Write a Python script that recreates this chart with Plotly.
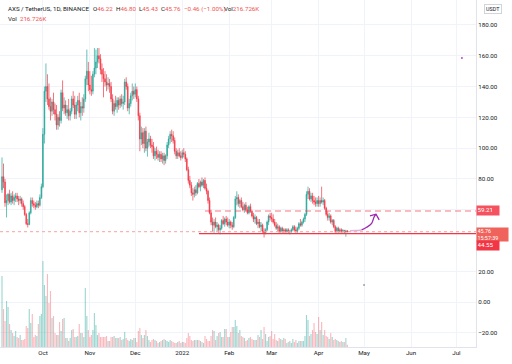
import pandas as pd
import plotly.graph_objects as go

# ---------------- data ----------------
dates = pd.date_range("2021-09-04", periods=229, freq="D")

opens_sep = [73, 81.5, 78, 64.5, 66, 70, 65, 69, 66, 68, 69, 67, 66, 67, 64, 62, 57, 51, 50.5, 58, 66, 64, 63, 62, 64, 63, 68]
highs_sep = [94, 90, 80, 70, 71, 73, 71, 72, 70, 71, 71, 69, 69, 68, 66, 63, 58, 54, 59, 68, 68, 66, 65, 66, 66, 70, 77]
lows_sep = [71, 74, 62, 55, 63, 64, 63, 64, 63, 65, 65, 63, 64, 62, 60, 56, 50, 48.5, 50, 57, 62, 61, 60, 61, 61, 62, 67]
closes_sep = [81.5, 78, 64.5, 66, 70, 65, 69, 66, 68, 69, 67, 66, 67, 64, 62, 57, 51, 50.5, 58, 66, 64, 63, 62, 64, 63, 68, 75]

opens_oct = [75, 109, 137, 140, 132, 127, 124, 130, 125, 122, 115, 120, 118, 136, 126, 128, 123, 125, 121, 124, 132, 128, 122, 128, 131, 123, 127, 126, 132, 145, 150]
highs_oct = [113, 140, 155, 148, 142, 133, 132, 136, 129, 128, 122, 124, 138, 144, 133, 131, 128, 132, 126, 134, 137, 134, 130, 134, 136, 130, 133, 135, 147, 164, 156]
lows_oct = [74, 103, 130, 128, 125, 118, 121, 122, 118, 112, 112, 114, 116, 124, 122, 121, 119, 118, 118, 122, 126, 119, 119, 124, 120, 118, 121, 123, 130, 141, 137]
closes_oct = [109, 137, 140, 132, 127, 124, 130, 125, 122, 115, 120, 118, 136, 126, 128, 123, 125, 121, 124, 132, 128, 122, 128, 131, 123, 127, 126, 132, 145, 150, 141]

opens_nov = [141, 138, 137, 148, 152, 156, 160, 158, 151, 148, 145, 143, 141, 142, 140, 132, 124, 129, 127, 131, 128, 132, 129, 130, 143, 140, 126, 129, 134, 137]
highs_nov = [150, 147, 150, 165, 164, 165, 165, 161, 155, 152, 150, 148, 146, 145, 143, 135, 131, 134, 133, 133, 134, 135, 134, 145, 146, 142, 132, 136, 142, 140]
lows_nov = [135, 134, 135, 146, 148, 152, 155, 148, 143, 133, 140, 137, 138, 136, 130, 122, 121, 125, 123, 125, 126, 127, 125, 128, 138, 124, 122, 127, 131, 132]
closes_nov = [138, 137, 148, 152, 156, 160, 158, 151, 148, 145, 143, 141, 142, 140, 132, 124, 129, 127, 131, 128, 132, 129, 130, 143, 140, 126, 129, 134, 137, 135]

opens_dec = [135, 138, 132, 121, 106, 110, 103, 111, 100, 104, 106, 102, 101, 95, 98, 96, 94, 96, 93, 95, 92, 95, 102, 106, 109, 108, 105, 98, 95, 97, 95]
highs_dec = [142, 140, 134, 123, 114, 113, 113, 114, 106, 110, 108, 106, 104, 100, 101, 99, 98, 98, 97, 97, 96, 104, 108, 111, 112, 111, 107, 100, 99, 100, 98]
lows_dec = [133, 130, 118, 98, 102, 100, 97, 98, 94.5, 101, 100, 97, 93, 92, 93, 92, 91, 91, 90, 89, 90, 93, 100, 103, 104, 103, 96, 93, 93, 94, 92]
closes_dec = [138, 132, 121, 106, 110, 103, 111, 100, 104, 106, 102, 101, 95, 98, 96, 94, 96, 93, 95, 92, 95, 102, 106, 109, 108, 105, 98, 95, 97, 95, 94]

opens_jan = [94, 97, 96, 93, 86, 79, 76, 71, 70, 73, 71, 77, 75, 78, 76, 79, 74, 72, 66, 58, 52, 50, 52, 49, 50, 47, 48, 53, 51, 54, 52]
highs_jan = [99, 100, 98, 94, 88, 82, 78, 74, 75, 76, 78, 80, 79, 81, 80, 81, 77, 73, 68, 60, 55, 54, 55, 52, 51, 50, 54, 56, 55, 56, 55]
lows_jan = [93, 94, 91, 85, 77, 74, 69, 66, 68, 69, 70, 74, 72, 75, 74, 73, 70, 64, 57, 50, 46, 45, 48, 46, 45, 44, 47, 50, 49, 50, 49]
closes_jan = [97, 96, 93, 86, 79, 76, 71, 70, 73, 71, 77, 75, 78, 76, 79, 74, 72, 66, 58, 52, 50, 52, 49, 50, 47, 48, 53, 51, 54, 52, 50]

opens_feb = [50, 52, 50, 49, 55, 67, 68, 64, 66, 62, 60, 63, 60, 58, 62, 59, 56, 54, 55, 51, 52, 49, 50, 46, 45, 47, 52, 56]
highs_feb = [54, 53, 52, 56, 69, 72, 70, 67, 68, 65, 64, 65, 62, 63, 64, 60, 58, 57, 56, 54, 54, 52, 51, 48, 48, 53, 57, 58]
lows_feb = [48, 48, 47, 48, 54, 63, 62, 61, 61, 59, 58, 59, 57, 57, 58, 55, 52, 51, 50, 48, 48, 46, 45, 42, 44, 46, 50, 53]
closes_feb = [52, 50, 49, 55, 67, 68, 64, 66, 62, 60, 63, 60, 58, 62, 59, 56, 54, 55, 51, 52, 49, 50, 46, 45, 47, 52, 56, 55]

opens_mar = [55, 54, 52, 50, 48, 49, 46, 48, 46, 47, 46, 47, 45.5, 46, 47, 49, 47, 46, 48, 51, 50, 52, 54, 57, 70, 72, 67, 69, 66, 65, 64]
highs_mar = [58, 57, 54, 52, 51, 50, 49, 49, 48, 48, 48, 48, 47, 48, 50, 50, 49, 49, 52, 54, 53, 55, 58, 72, 75, 74, 71, 71, 69, 68, 68]
lows_mar = [52, 51, 49, 47, 46, 45, 45, 45, 44.5, 45, 45, 45, 44, 45, 46, 46, 45, 45, 47, 49, 49, 51, 52, 56, 67, 66, 65, 64, 63, 62, 62]
closes_mar = [54, 52, 50, 48, 49, 46, 48, 46, 47, 46, 47, 45.5, 46, 47, 49, 47, 46, 48, 51, 50, 52, 54, 57, 70, 72, 67, 69, 66, 65, 64, 66]

opens_apr = [66, 64, 66, 65, 66, 61, 57, 55, 56, 52, 53, 49, 46, 48, 46, 47, 46, 46.5, 45.6, 46.22]
highs_apr = [69, 68, 75, 68, 67, 62, 59, 58, 57, 54, 54, 50, 49, 49, 48, 48, 47.5, 47, 47, 46.80]
lows_apr = [62, 62, 64, 63, 60, 56, 53, 53, 51, 50, 48, 45, 45, 45, 45, 45, 45, 44.8, 42.5, 45.43]
closes_apr = [64, 66, 65, 66, 61, 57, 55, 56, 52, 53, 49, 46, 48, 46, 47, 46, 46.5, 45.6, 46.22, 45.76]

# volumes in thousands
vol_sep = [7100, 3800, 2600, 4600, 4000, 2300, 1700, 1400, 1100, 1600, 1000, 900, 1200, 700, 700, 800, 2100, 1900, 3800, 2400, 3300, 1000, 1200, 1100, 2300, 3100, 3300]
vol_oct = [8600, 6200, 5100, 7300, 4400, 5600, 2900, 3100, 1400, 1200, 1200, 2500, 1600, 2800, 2900, 900, 900, 600, 900, 1700, 1800, 1000, 1000, 1100, 2300, 1400, 1400, 1000, 5900, 3100, 1700]
vol_nov = [1000, 1200, 1700, 3400, 2200, 1200, 1400, 1000, 1000, 1000, 1000, 1100, 600, 600, 1000, 1000, 1100, 900, 900, 900, 1000, 700, 800, 1500, 900, 700, 600, 800, 700, 900]
vol_dec = [900, 500, 1600, 1900, 1200, 900, 1200, 1700, 1100, 700, 500, 700, 800, 700, 600, 400, 500, 600, 700, 800, 700, 600, 500, 700, 600, 500, 400, 400, 500, 600, 400]
vol_jan = [500, 500, 400, 900, 1400, 1100, 700, 600, 700, 700, 700, 700, 600, 500, 400, 1100, 800, 600, 600, 1100, 1700, 1600, 700, 1100, 1400, 1500, 1000, 1000, 1800, 1800, 1000]
vol_feb = [1000, 1500, 2000, 2000, 2700, 2100, 1400, 1700, 1100, 1000, 900, 600, 700, 900, 1000, 800, 700, 700, 700, 1200, 1000, 1700, 800, 2000, 1300, 600, 1000, 1100]
vol_mar = [1600, 800, 1300, 700, 600, 900, 800, 700, 900, 800, 400, 500, 600, 400, 800, 500, 700, 400, 600, 600, 600, 600, 1100, 3200, 2700, 1100, 1300, 1700, 2400, 1500, 1300]
vol_apr = [3000, 1700, 2500, 1200, 1700, 1100, 1000, 800, 1400, 1000, 700, 800, 700, 600, 500, 600, 500, 500, 900, 216.726]

opens = opens_sep + opens_oct + opens_nov + opens_dec + opens_jan + opens_feb + opens_mar + opens_apr
highs = highs_sep + highs_oct + highs_nov + highs_dec + highs_jan + highs_feb + highs_mar + highs_apr
lows = lows_sep + lows_oct + lows_nov + lows_dec + lows_jan + lows_feb + lows_mar + lows_apr
closes = closes_sep + closes_oct + closes_nov + closes_dec + closes_jan + closes_feb + closes_mar + closes_apr
volumes_k = vol_sep + vol_oct + vol_nov + vol_dec + vol_jan + vol_feb + vol_mar + vol_apr

month_ticks = ["2021-10-01", "2021-11-01", "2021-12-01", "2022-01-01", "2022-02-01",
               "2022-03-01", "2022-04-01", "2022-05-01", "2022-06-01", "2022-07-01"]
month_labels = ["Oct", "Nov", "Dec", "2022", "Feb", "Mar", "Apr", "May", "Jun", "Jul"]
price_ticks = [-20, 0, 20, 60, 80, 100, 120, 140, 160, 180]

resistance = 59.21
support = 44.55
last_close = 45.76
resistance_start = "2022-01-16"
support_start = "2022-01-12"

# hand-drawn arrow (days after 2021-09-04, price)
arrow_faded_days = [229.7, 233.5, 237.4]
arrow_faded_prices = [46.4, 46.5, 46.9]
arrow_days = [237.4, 240.7, 244.0, 245.7, 246.9]
arrow_prices = [46.9, 48.6, 51.2, 55.5, 57.1]
head_days = [242.9, 246.9, 249.0]
head_prices = [56.0, 57.1, 53.4]

# ---------------- styling ----------------
UP = "#26a69a"
DOWN = "#f23645"
UP_VOL = "rgba(38,166,154,0.45)"
DOWN_VOL = "rgba(242,54,69,0.35)"
GRID = "#f0f3fa"
AXIS = "#e0e3eb"
TXT = "#131722"
RED_TXT = "#ef5350"
PURPLE = "#9c27b0"
FONT = "Roboto"
FS = 6.2

base = pd.Timestamp("2021-09-04")
to_date = lambda d: base + pd.Timedelta(days=d)
x_start = to_date(-1.32)
x_end = to_date(312.9)

vol_colors = [UP_VOL if c >= o else DOWN_VOL for o, c in zip(opens, closes)]

fig = go.Figure()
fig.add_trace(go.Bar(x=dates, y=volumes_k, marker=dict(color=vol_colors, line=dict(width=0)),
                     yaxis="y", hoverinfo="skip"))
fig.add_trace(go.Candlestick(
    x=dates, open=opens, high=highs, low=lows, close=closes, yaxis="y2",
    increasing=dict(line=dict(color=UP, width=0.7), fillcolor=UP),
    decreasing=dict(line=dict(color=DOWN, width=0.7), fillcolor=DOWN),
    whiskerwidth=0, hoverinfo="skip"))

fig.add_trace(go.Scatter(x=[to_date(d) for d in arrow_faded_days], y=arrow_faded_prices, yaxis="y2",
                         mode="lines", line=dict(color="#dbb5e6", width=1.4, shape="spline"), hoverinfo="skip"))
fig.add_trace(go.Scatter(x=[to_date(d) for d in arrow_days], y=arrow_prices, yaxis="y2",
                         mode="lines", line=dict(color=PURPLE, width=1.3, shape="spline"), hoverinfo="skip"))
fig.add_trace(go.Scatter(x=[to_date(d) for d in head_days], y=head_prices, yaxis="y2",
                         mode="lines", line=dict(color=PURPLE, width=1.3), hoverinfo="skip"))
fig.add_trace(go.Scatter(x=[to_date(303.6), to_date(239.0)], y=[158.6, 11.2], yaxis="y2", mode="markers",
                         marker=dict(size=2, color=["#b04fc4", "#9aa0ab"]), hoverinfo="skip"))

shapes = [
    dict(type="line", xref="x", yref="y2", x0=x_start, x1=x_end, y0=last_close, y1=last_close,
         line=dict(color="#f5a3a3", width=1, dash="dot")),
    dict(type="line", xref="x", yref="y2", x0=resistance_start, x1=x_end, y0=resistance, y1=resistance,
         line=dict(color="rgba(242,54,69,0.45)", width=1.6, dash="6px,4px")),
    dict(type="line", xref="x", yref="y2", x0=support_start, x1=x_end, y0=support, y1=support,
         line=dict(color=DOWN, width=1.3)),
]

W_PLOT = 476.0
H_PLOT = 347.0
def px(x):
    return x / W_PLOT
def py(y):
    return 1 - y / H_PLOT

annotations = []
def head(x, y, text):
    annotations.append(dict(xref="paper", yref="paper", x=px(x), y=py(y), xanchor="left", yanchor="middle",
                            text=text, showarrow=False, font=dict(size=FS, color=TXT, family=FONT)))
red = lambda s: f"<span style='color:{RED_TXT}'>{s}</span>"
head(6, 9.3, "AXS / TetherUS, 1D, BINANCE")
head(90.5, 9.3, "O" + red(f"{opens[-1]:.2f}"))
head(113.8, 9.3, "H" + red(f"{highs[-1]:.2f}"))
head(136.5, 9.3, "L" + red(f"{lows[-1]:.2f}"))
head(158.8, 9.3, "C" + red(f"{closes[-1]:.2f}"))
chg = closes[-1] - opens[-1]
head(181.5, 9.3, red(f"−{abs(chg):.2f} (−{abs(chg) / opens[-1] * 100:.2f}%)"))
head(222, 9.3, "Vol" + red(f"{volumes_k[-1]:.3f}K"))
head(6, 19.2, "Vol  " + red(f"{volumes_k[-1]:.3f}K"))

annotations.append(dict(xref="paper", yref="paper", x=px(493), y=py(9), xanchor="center", yanchor="middle",
                        text="USDT", showarrow=False, font=dict(size=5.4, color=TXT, family=FONT),
                        bordercolor="#d1d4dc", borderwidth=1, borderpad=1, bgcolor="white"))

def price_label(y, text, bg, shift=0, width=None, height=None, size=FS):
    d = dict(xref="paper", yref="y2", x=1.0, y=y, xanchor="left", yanchor="middle", yshift=shift,
             text=text, showarrow=False, bgcolor=bg, borderpad=0.5,
             font=dict(size=size, color="white", family=FONT), align="left")
    if width:
        d["width"] = width
    if height:
        d["height"] = height
    annotations.append(d)

price_label(resistance, f"{resistance:.2f}", "#f5525f", 0, 21, 7.5)
price_label(last_close, f"{last_close:.2f}<br>15:57:39", "#f0625c", -2.5, 30, 11.5, 5.4)
price_label(support, f"{support:.2f}", "#f23645", -12, 21, 7.5)

fig.update_layout(
    width=512, height=364,
    margin=dict(l=0, r=36, t=0, b=17),
    paper_bgcolor="white", plot_bgcolor="white",
    showlegend=False, hovermode=False, bargap=0.25,
    font=dict(family=FONT, size=FS, color=TXT),
    xaxis=dict(type="date", range=[x_start, x_end], tickvals=month_ticks, ticktext=month_labels,
               showgrid=True, gridcolor=GRID, gridwidth=1, showline=True, linecolor=AXIS, linewidth=1,
               ticks="", tickfont=dict(size=FS, color=TXT), rangeslider=dict(visible=False), zeroline=False),
    yaxis=dict(range=[0, 34700], visible=False, fixedrange=True),
    yaxis2=dict(overlaying="y", side="right", range=[-29.1, 196.2], tickvals=price_ticks, tickformat=".2f",
                showgrid=True, gridcolor=GRID, gridwidth=1, showline=True, linecolor=AXIS, linewidth=1,
                ticks="", tickfont=dict(size=FS, color=TXT), zeroline=False),
    shapes=shapes, annotations=annotations,
)

fig.write_html("out.html")
